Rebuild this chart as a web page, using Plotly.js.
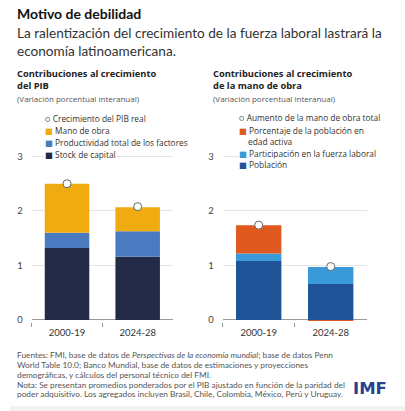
<!DOCTYPE html>
<html>
<head>
<meta charset="utf-8">
<script src="https://cdn.plot.ly/plotly-3.0.1.min.js"></script>
<style>html,body{margin:0;padding:0;background:#fff;}#chart{width:405px;height:411px;}</style>
</head>
<body>
<div id="chart"></div>
<script>
// ---- data ----
const categories = ['2000-19', '2024-28'];
// Left: contributions to GDP growth
const stockCapital = [1.32, 1.16];
const ptf = [0.28, 0.47];
const manoObra = [0.90, 0.44];
const pibReal = [2.50, 2.08];
// Right: contributions to labor growth
const poblacion = [1.08, 0.66];
const participacion = [0.14, 0.31];
const porcentajeEdad = [0.52, -0.02];
const manoObraTotal = [1.74, 0.98];
const yTicks = [0, 1, 2, 3];

const leftNames = ['Crecimiento del PIB real', 'Mano de obra', 'Productividad total de los factores', 'Stock de capital'];
const rightNames = ['Aumento de la mano de obra total', 'Porcentaje de la población en edad activa', 'Participación en la fuerza laboral', 'Población'];

const footerLines = [
  'Fuentes: FMI, base de datos de <i>Perspectivas de la economía mundial</i>; base de datos Penn',
  'World Table 10.0; Banco Mundial, base de datos de estimaciones y proyecciones',
  'demográficas, y cálculos del personal técnico del FMI.',
  'Nota: Se presentan promedios ponderados por el PIB ajustado en función de la paridad del',
  'poder adquisitivo. Los agregados incluyen Brasil, Chile, Colombia, México, Perú y Uruguay.'
];

const C = {
  stock: '#232a46', ptf: '#4a7bc0', mano: '#f0ab10',
  pob: '#1f5296', part: '#3a9ad8', pct: '#e05a20'
};
const FONT = 'Lato, "Open Sans", "DejaVu Sans", sans-serif';
const OPEN = '"Open Sans", Lato, "DejaVu Sans", sans-serif';

function bar(x, y, name, color, xa, ya) {
  return {type: 'bar', x: x, y: y, name: name, xaxis: xa, yaxis: ya,
    marker: {color: color, line: {width: 0}}, showlegend: false, hoverinfo: 'y+name'};
}
function dots(x, y, name, xa, ya) {
  return {type: 'scatter', mode: 'markers', x: x, y: y, name: name, xaxis: xa, yaxis: ya,
    cliponaxis: false, showlegend: false,
    marker: {size: 8, color: '#ffffff', line: {color: '#666', width: 1}}};
}

const traces = [
  bar(categories, stockCapital, leftNames[3], C.stock, 'x', 'y'),
  bar(categories, ptf, leftNames[2], C.ptf, 'x', 'y'),
  bar(categories, manoObra, leftNames[1], C.mano, 'x', 'y'),
  dots(categories, pibReal, leftNames[0], 'x', 'y'),
  bar(categories, poblacion, rightNames[3], C.pob, 'x2', 'y2'),
  bar(categories, participacion, rightNames[2], C.part, 'x2', 'y2'),
  bar(categories, porcentajeEdad, rightNames[1], C.pct, 'x2', 'y2'),
  dots(categories, manoObraTotal, rightNames[0], 'x2', 'y2')
];

const W = 405, H = 411;
const px = v => v / W;
const py = v => 1 - v / H;

const yDomain = [py(321.6), py(137.4)];
function yax(anchor) {
  return {anchor: anchor, domain: yDomain, range: [-0.03, 3.35], tickvals: yTicks,
    showgrid: true, gridcolor: '#e4e4e4', gridwidth: 1,
    zeroline: true, zerolinecolor: '#9a9a9a', zerolinewidth: 1,
    showline: false, ticks: '', ticklabelstandoff: 8,
    tickfont: {family: FONT, size: 9.5, color: '#444'}, fixedrange: true};
}
function xax(anchor, dom) {
  return {anchor: anchor, domain: dom, type: 'category', showline: false, showgrid: false,
    zeroline: false, ticks: 'outside', tickson: 'boundaries', ticklen: 4, tickcolor: '#9a9a9a',
    ticklabelstandoff: 4,
    tickfont: {family: FONT, size: 9.5, color: '#333'}, fixedrange: true};
}

const ann = [];
function txt(x, y, text, font, opts) {
  ann.push(Object.assign({xref: 'paper', yref: 'paper', x: px(x), y: py(y), text: text,
    showarrow: false, xanchor: 'left', yanchor: 'middle', align: 'left', borderpad: 0,
    font: font}, opts || {}));
}
txt(16, 14, '<b>Motivo de debilidad</b>', {family: FONT, size: 14, color: '#111'});
txt(16, 24, 'La ralentización del crecimiento de la fuerza laboral lastrará la<br>economía latinoamericana.', {family: FONT, size: 13.6, color: '#333'}, {yanchor: 'top'});

const subFont = {family: OPEN, size: 9.3, color: '#222'};
const noteFont = {family: OPEN, size: 8, color: '#555'};
txt(16, 73.8, '<b>Contribuciones al crecimiento</b>', subFont);
txt(16, 86, '<b>del PIB</b>', subFont);
txt(16, 98.6, '(Variación porcentual interanual)', noteFont);
txt(212, 73.8, '<b>Contribuciones al crecimiento</b>', subFont);
txt(212, 86, '<b>de la mano de obra</b>', subFont);
txt(212, 98.6, '(Variación porcentual interanual)', noteFont);

// legends (annotations with white background, covering gridlines like the original)
const sq = c => '<span style="color:' + c + '">■</span> ';
const circ = '<span style="color:#666">○</span> ';
const lfont = {family: OPEN, size: 8.35, color: '#333'};
const lopts = {bgcolor: '#ffffff'};
const leftSym = [circ, sq(C.mano), sq(C.ptf), sq(C.stock)];
const leftY = [118.3, 130.5, 142.7, 154.9];
leftNames.forEach((n, i) => txt(44, leftY[i], leftSym[i] + n, lfont, lopts));

const rx = 238, rTextX = 246.5;
txt(rx, 117.5, circ + rightNames[0], lfont, lopts);
const pctWords = rightNames[1].split(' ');
txt(rx, 130.7, sq(C.pct) + pctWords.slice(0, 5).join(' '), lfont, lopts);
txt(rTextX, 141.7, pctWords.slice(5).join(' '), lfont, lopts);
txt(rx, 153.7, sq(C.part) + rightNames[2], lfont, lopts);
txt(rx, 164.6, sq(C.pob) + rightNames[3], lfont, lopts);

// footer
const footFont = {family: FONT, size: 8.3, color: '#555'};
footerLines.forEach((l, i) => txt(16, 355 + i * 9.85, l, footFont));
txt(352, 388.5, '<b>IMF</b>', {family: '"DejaVu Sans", sans-serif', size: 16.5, color: '#25418f'});

const layout = {
  width: W, height: H, margin: {l: 0, r: 0, t: 0, b: 0},
  paper_bgcolor: '#ffffff', plot_bgcolor: '#ffffff',
  barmode: 'relative', bargap: 0.37, showlegend: false,
  xaxis: xax('y', [px(31.7), px(173)]),
  yaxis: yax('x'),
  xaxis2: xax('y2', [px(222.7), px(366.7)]),
  yaxis2: yax('x2'),
  annotations: ann,
  shapes: [{type: 'rect', xref: 'paper', yref: 'paper', x0: px(10), x1: 1, y0: 0, y1: py(406), fillcolor: '#f1f1f1', line: {width: 0}, layer: 'below'}],
  font: {family: FONT}
};

Plotly.newPlot('chart', traces, layout, {displayModeBar: false, staticPlot: true});
</script>
</body>
</html>
